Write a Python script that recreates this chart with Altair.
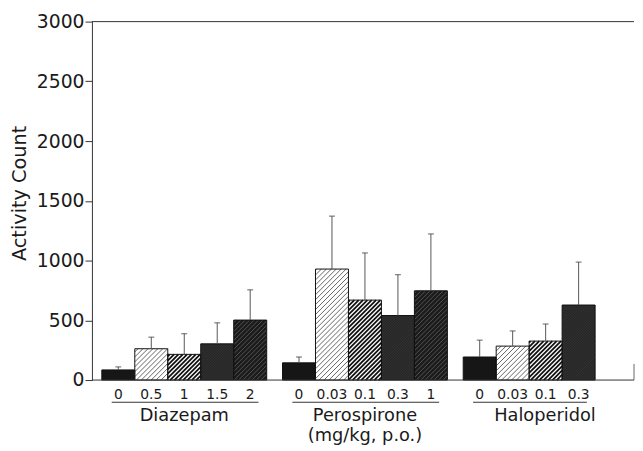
import math
import altair as alt
import pandas as pd

# ---------------- data ----------------
groups = ["Diazepam", "Perospirone", "Haloperidol"]
doses = [["0", "0.5", "1", "1.5", "2"],
         ["0", "0.03", "0.1", "0.3", "1"],
         ["0", "0.03", "0.1", "0.3"]]
means = [[85, 262, 215, 303, 502],
         [144, 929, 669, 540, 747],
         [193, 284, 326, 628]]
err_tops = [[110, 359, 388, 479, 755],
            [193, 1372, 1064, 882, 1223],
            [334, 411, 469, 987]]
y_ticks = [0, 500, 1000, 1500, 2000, 2500, 3000]
y_title = "Activity  Count"
unit_label = "(mg/kg, p.o.)"

# ---------------- layout / style ----------------
PLOT_W, PLOT_H = 549, 363
Y_MAX = 3000
LEFT_GAP, GROUP_GAP, RIGHT_GAP = 0.3, 0.48, 1.18   # in bar widths
group_label_shift = [0.0, 0.0, 0.48]
FONT = "DejaVu Sans"
INK = "#1a1a1a"

# pattern per dose index: (fill, line colour, line width, horizontal spacing px)
patterns = [
    ("#161616", None, 0, 0),
    ("#ffffff", "#222222", 0.7, 5.0),
    ("#ffffff", "#111111", 1.8, 4.4),
    ("#262626", "#3c3c3c", 0.6, 2.6),
    ("#1b1b1b", "#7a7a7a", 0.6, 4.5),
]

# ---------------- build tables ----------------
bars, hatch, gl = [], [], []
pos = LEFT_GAP
for g, name in enumerate(groups):
    start = pos
    for i, d in enumerate(doses[g]):
        x0, x1 = pos, pos + 1
        bars.append(dict(group=name, dose=d, idx=i, x0=x0, x1=x1, xc=(x0 + x1) / 2,
                         mean=means[g][i], top=err_tops[g][i], base=0,
                         fill=patterns[i][0]))
        pos += 1
    gl.append(dict(group=name, xs=start + 0.3, xe=pos - 0.25,
                   xc=(start + pos) / 2 + group_label_shift[g]))
    pos += GROUP_GAP
XMAX = pos - GROUP_GAP + RIGHT_GAP
PX = PLOT_W / XMAX
PY = PLOT_H / Y_MAX

# diagonal hatch segments, computed from each bar through the scales' ratios
for b in bars:
    fill, lc, lw, h = patterns[b["idx"]]
    if lc is None:
        continue
    u0, u1, V = b["x0"] * PX, b["x1"] * PX, b["mean"] * PY
    c = math.floor((u0 - V) / h) * h
    while c < u1:
        ua, ub = max(u0, c), min(u1, c + V)
        if ub - ua > 0.3:
            hatch.append(dict(x=ua / PX, y=(ua - c) / PY, x2=ub / PX,
                              y2=(ub - c) / PY, col=lc, w=lw))
        c += h

bdf = pd.DataFrame(bars)
hdf = pd.DataFrame(hatch)
gdf = pd.DataFrame(gl)
frame = pd.DataFrame(dict(xa=[0, 0], xb=[XMAX, XMAX], yv=[0, Y_MAX]))
unit_df = pd.DataFrame(dict(xc=[gl[1]["xc"]], t=[unit_label]))

xs = alt.Scale(domain=[0, XMAX], nice=False, zero=False)
ys = alt.Scale(domain=[0, Y_MAX], nice=False)
X = lambda f: alt.X(f, scale=xs, axis=None)
yaxis = alt.Axis(values=y_ticks, format="d", grid=False, tickSize=7, tickColor="#333",
                 domainColor="#333", labelFont=FONT, labelFontSize=19,
                 labelColor=INK, labelPadding=1, title=y_title,
                 titleFont=FONT, titleFontSize=19.5, titleFontWeight="normal",
                 titleColor=INK, titleX=-73, titleY=PLOT_H / 2 - 8, titleAngle=270,
                 titleAlign="center", titleBaseline="middle")

bar_fill = alt.Chart(bdf).mark_rect(strokeWidth=0).encode(
    x=X("x0:Q"), x2="x1", y=alt.Y("mean:Q", scale=ys, axis=yaxis), y2="base",
    fill=alt.Fill("fill:N", scale=None))

hatch_l = alt.Chart(hdf).mark_rule().encode(
    x=X("x:Q"), x2="x2", y=alt.Y("y:Q", scale=ys), y2="y2",
    color=alt.Color("col:N", scale=None),
    strokeWidth=alt.StrokeWidth("w:Q", scale=None))

bar_line = alt.Chart(bdf).mark_rect(fillOpacity=0, stroke="#111", strokeWidth=1).encode(
    x=X("x0:Q"), x2="x1", y=alt.Y("mean:Q", scale=ys), y2="base")

err_v = alt.Chart(bdf).mark_rule(color="#555", strokeWidth=1).encode(
    x=X("xc:Q"), y=alt.Y("mean:Q", scale=ys), y2="top")
err_c = alt.Chart(bdf).mark_tick(color="#444", orient="horizontal", size=6,
                                 thickness=1.2).encode(
    x=X("xc:Q"), y=alt.Y("top:Q", scale=ys))

frame_l = alt.Chart(frame).mark_rule(color="#333", strokeWidth=1).encode(
    x=X("xa:Q"), x2="xb", y=alt.Y("yv:Q", scale=ys))
right_l = alt.Chart(pd.DataFrame(dict(x=[XMAX], y=[0], y2=[135]))).mark_rule(
    color="#666", strokeWidth=1).encode(x=X("x:Q"), y=alt.Y("y:Q", scale=ys), y2="y2")

dose_t = alt.Chart(bdf).mark_text(font=FONT, fontSize=14, color=INK,
                                  baseline="alphabetic").encode(
    x=X("xc:Q"), y=alt.value(382.5), text="dose:N")
under = alt.Chart(gdf).mark_rule(color="#333", strokeWidth=1).encode(
    x=X("xs:Q"), x2="xe", y=alt.value(385.5))
group_t = alt.Chart(gdf).mark_text(font=FONT, fontSize=18, color=INK,
                                   baseline="alphabetic").encode(
    x=X("xc:Q"), y=alt.value(404), text="group:N")
unit_t = alt.Chart(unit_df).mark_text(font=FONT, fontSize=18, color=INK,
                                      baseline="alphabetic").encode(
    x=X("xc:Q"), y=alt.value(424.5), text="t:N")

chart = alt.layer(bar_fill, hatch_l, bar_line, err_v, err_c, frame_l, right_l,
                  dose_t, under, group_t, unit_t).properties(
    width=PLOT_W, height=PLOT_H, autosize="none",
    padding={"left": 85, "top": 11, "right": 1, "bottom": 64},
    background="white",
).configure_view(stroke=None)

chart.save("out.html", embed_options={"renderer": "svg", "actions": False})
